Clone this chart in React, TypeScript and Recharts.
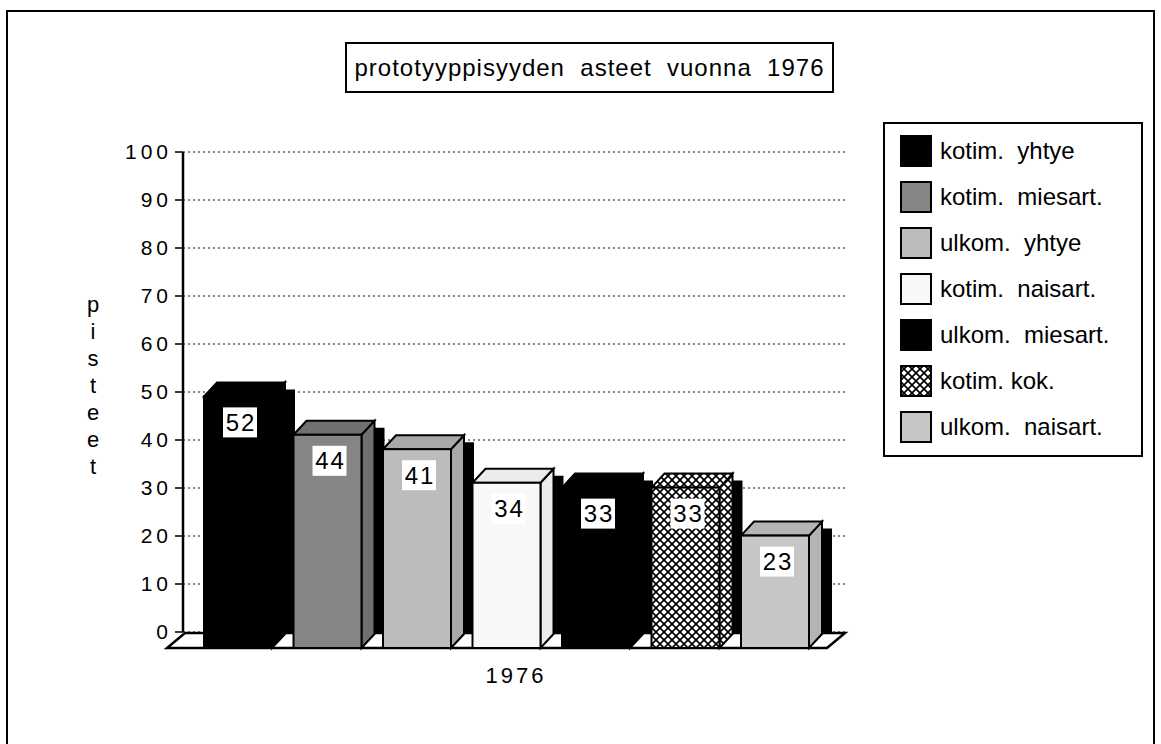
import React from 'react';
import { BarChart, Bar, XAxis, YAxis, CartesianGrid, LabelList, ReferenceArea } from 'recharts';

// data
const CATEGORIES = ['1976'];
const SERIES_KEYS = ['kotimYhtye', 'kotimMiesart', 'ulkomYhtye', 'kotimNaisart', 'ulkomMiesart', 'kotimKok', 'ulkomNaisart'];
const SERIES_NAMES = ['kotim.  yhtye', 'kotim.  miesart.', 'ulkom.  yhtye', 'kotim.  naisart.', 'ulkom.  miesart.', 'kotim. kok.', 'ulkom.  naisart.'];
const VALUES_1976 = [52, 44, 41, 34, 33, 33, 23];
const Y_TICKS = [0, 10, 20, 30, 40, 50, 60, 70, 80, 90, 100];
const TITLE = 'prototyyppisyyden  asteet  vuonna  1976';
const Y_LABEL = 'pisteet';

const FRONT_FILLS = ['#000', '#858585', '#bcbcbc', '#f8f8f8', '#000', 'url(#crossHatch)', '#c6c6c6'];
const SIDE_FILLS = ['#000', '#707070', '#a8a8a8', '#ececec', '#000', 'url(#crossHatch)', '#b4b4b4'];

const FONT = '"Liberation Sans", Arial, Helvetica, sans-serif';

const data = CATEGORIES.map((year) => {
  const row: any = { year };
  SERIES_KEYS.forEach((k, i) => { row[k] = VALUES_1976[i]; });
  return row;
});

// 3d look: front face pushed down/left, top + side faces go back up-right
const DX = 13;
const DY = 14;
const SHIFT = 8;
const FLOOR = 16;

function Bar3D(props: any) {
  const { x, y, width, height, fill, side } = props;
  const base = y + height;
  const fx = x - SHIFT;
  const fr = fx + width;
  const top = y + DY;
  const bottom = base + FLOOR;
  return (
    <g>
      <polygon points={`${fr + DX},${y + 7} ${fr + DX + 10},${y + 7} ${fr + DX + 10},${base} ${fr + DX},${base}`} fill="#000" />
      <polygon points={`${fr},${top} ${fr + DX},${y} ${fr + DX},${base + 2} ${fr},${bottom}`} fill={side} stroke="#000" strokeWidth={2} />
      <polygon points={`${fx},${top} ${fx + DX},${y} ${fr + DX},${y} ${fr},${top}`} fill={side} stroke="#000" strokeWidth={2} />
      <rect x={fx} y={top} width={width} height={bottom - top} fill={fill} stroke="#000" strokeWidth={2} />
    </g>
  );
}

function ValueLabel(props: any) {
  const { x, y, width, value } = props;
  const cx = x - SHIFT + width / 2 + 2;
  const cy = y + 40;
  return (
    <g>
      <rect x={cx - 17} y={cy - 15} width={34} height={30} fill="#fff" />
      <text x={cx + 1} y={cy + 8.5} textAnchor="middle" fontSize={24} letterSpacing={2} fontFamily={FONT} fill="#000">
        {value}
      </text>
    </g>
  );
}

function Floor(props: any) {
  const { x, y, width, height } = props;
  const b = y + height;
  return (
    <polygon
      points={`${x + 2},${b + 1} ${x + width},${b + 1} ${x + width - 18},${b + FLOOR} ${x - 16},${b + FLOOR}`}
      fill="#fff"
      stroke="#000"
      strokeWidth={2.5}
    />
  );
}

function YearTick(props: any) {
  const { x, y, payload } = props;
  return (
    <text x={x + 2} y={y + 43} textAnchor="middle" fontSize={22} letterSpacing={3} fontFamily={FONT} fill="#000">
      {payload.value}
    </text>
  );
}

function PisteetLabel(props: any) {
  const vb = props.viewBox || {};
  const cy = vb.y + vb.height / 2 - 7;
  const letters = Y_LABEL.split('');
  return (
    <g>
      {letters.map((ch, i) => (
        <text key={i} x={93} y={cy + (i - 3) * 27 + 8} textAnchor="middle" fontSize={22} fontFamily={FONT} fill="#000">
          {ch}
        </text>
      ))}
    </g>
  );
}

function Swatch({ fill }: { fill: string }) {
  return (
    <svg width={32} height={32} style={{ display: 'block', flex: 'none' }}>
      <rect x={1} y={1} width={30} height={30} fill={fill} stroke="#000" strokeWidth={2} />
    </svg>
  );
}

export default function App() {
  return (
    <div style={{ position: 'fixed', left: 0, top: 0, width: 1161, height: 744, overflow: 'hidden', background: '#fff', fontFamily: FONT }}>
      {/* outer frame, bottom edge runs off the page */}
      <div style={{ position: 'absolute', left: 6, top: 10, width: 1145, height: 760, border: '2px solid #000' }} />

      <BarChart
        width={1161}
        height={744}
        data={data}
        margin={{ top: 152, right: 316, bottom: 82, left: 0 }}
        barSize={68}
        barGap={21.5}
        style={{ position: 'absolute', left: 0, top: 0 }}
      >
        <defs>
          <pattern id="crossHatch" width="8" height="8" patternUnits="userSpaceOnUse">
            <rect width="8" height="8" fill="#fff" />
            <path d="M0,0 L8,8 M8,0 L0,8" stroke="#000" strokeWidth="1.7" />
          </pattern>
        </defs>
        <CartesianGrid vertical={false} stroke="#111" strokeDasharray="2 3" />
        <XAxis dataKey="year" axisLine={false} tickLine={false} height={30} tick={<YearTick />} />
        <YAxis
          domain={[0, 100]}
          ticks={Y_TICKS}
          interval={0}
          width={183}
          axisLine={{ stroke: '#000', strokeWidth: 2.5 }}
          tickLine={{ stroke: '#000', strokeWidth: 1.5 }}
          tickSize={8}
          tickMargin={3}
          tick={{ fontSize: 21, fill: '#000', letterSpacing: 4, fontFamily: FONT }}
          label={{ content: <PisteetLabel /> }}
        />
        <ReferenceArea y1={0} y2={1} shape={<Floor />} zIndex={-10} />
        {SERIES_KEYS.map((k, i) => (
          <Bar
            key={k}
            dataKey={k}
            name={SERIES_NAMES[i]}
            fill={FRONT_FILLS[i]}
            isAnimationActive={false}
            shape={(p: any) => <Bar3D {...p} fill={FRONT_FILLS[i]} side={SIDE_FILLS[i]} />}
          >
            <LabelList dataKey={k} content={<ValueLabel />} />
          </Bar>
        ))}
      </BarChart>

      {/* title box */}
      <div
        style={{
          position: 'absolute', left: 345, top: 42, width: 485, height: 47, border: '2px solid #000',
          fontSize: 24, letterSpacing: 1, lineHeight: '47px', textAlign: 'center', whiteSpace: 'pre', color: '#000',
        }}
      >
        {TITLE}
      </div>

      {/* legend */}
      <div
        style={{
          position: 'absolute', left: 883, top: 122, width: 256, height: 327, border: '2px solid #000',
          paddingTop: 4, boxSizing: 'content-box',
        }}
      >
        {SERIES_NAMES.map((name, i) => (
          <div key={name} style={{ display: 'flex', alignItems: 'center', height: 46, paddingLeft: 15 }}>
            <Swatch fill={FRONT_FILLS[i]} />
            <span style={{ marginLeft: 8, fontSize: 24, whiteSpace: 'pre', color: '#000' }}>{name}</span>
          </div>
        ))}
      </div>
    </div>
  );
}
